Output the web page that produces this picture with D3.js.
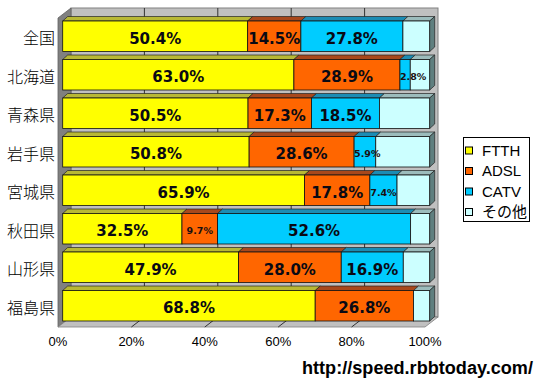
<!DOCTYPE html>
<html><head><meta charset="utf-8">
<script src="https://cdn.jsdelivr.net/npm/d3@7"></script>
<style>html,body{margin:0;padding:0;background:#fff;}svg{display:block;}</style>
</head><body>
<svg id="c" width="540" height="382"></svg>
<script>
const categories = ["全国","北海道","青森県","岩手県","宮城県","秋田県","山形県","福島県"];
const ftth  = [50.4, 63.0, 50.5, 50.8, 65.9, 32.5, 47.9, 68.8];
const adsl  = [14.5, 28.9, 17.3, 28.6, 17.8,  9.7, 28.0, 26.8];
const catv  = [27.8,  2.8, 18.5,  5.9,  7.4, 52.6, 16.9,  0.0];
const other = [ 7.3,  5.3, 13.7, 14.7,  8.9,  5.2,  7.2,  4.4];
const seriesNames = ["FTTH","ADSL","CATV","その他"];
const xTicks = [0, 20, 40, 60, 80, 100];
const sourceText = "http://speed.rbbtoday.com/";

const seriesValues = [ftth, adsl, catv, other];
const frontCol = ["#FFFF00","#FF6600","#00CCFF","#CCFFFF"];
const topCol   = ["#b8b834","#a8481c","#1c8cb4","#9cbcbc"];
const sideCol  = "#5f7f7f";
const showLabel = [true, true, true, false];

const svg = d3.select("#c");
const xPlane = d3.scaleLinear().domain([0,100]).range([58,425]);
const xBar   = d3.scaleLinear().domain([0,100]).range([62.7,429.7]);
const DX = 13, DY = 10, BDX = 5, BDY = 4.5;
const planeTop = 18, planeBot = 327;
const y = d3.scaleBand().domain(categories).range([20.5, 328.5]).padding(0);
const barH = y.bandwidth() - 8;

const poly = pts => pts.map(p => p.join(",")).join(" ");

svg.append("rect").attr("x", xPlane(0)+DX).attr("y", planeTop-DY)
  .attr("width", xPlane(100)-xPlane(0)).attr("height", planeBot-planeTop)
  .attr("fill", "#c0c0c0").attr("stroke", "#808080").attr("stroke-width", 1);
svg.append("polygon").attr("points", poly([[xPlane(0),planeTop],[xPlane(0)+DX,planeTop-DY],[xPlane(0)+DX,planeBot-DY],[xPlane(0),planeBot]]))
  .attr("fill", "#808080").attr("stroke", "#606060").attr("stroke-width", 0.8);
svg.append("polygon").attr("points", poly([[xPlane(0),planeBot],[xPlane(100),planeBot],[xPlane(100)+DX,planeBot-DY],[xPlane(0)+DX,planeBot-DY]]))
  .attr("fill", "#c0c0c0").attr("stroke", "#808080").attr("stroke-width", 0.8);
xTicks.filter(t => t > 0 && t < 100).forEach(t => {
  svg.append("line").attr("x1", xPlane(t)+DX).attr("x2", xPlane(t)+DX)
    .attr("y1", planeTop-DY).attr("y2", planeBot-DY).attr("stroke", "#333").attr("stroke-width", 1);
  svg.append("line").attr("x1", xPlane(t)).attr("x2", xPlane(t)+DX)
    .attr("y1", planeBot).attr("y2", planeBot-DY).attr("stroke", "#333").attr("stroke-width", 1);
});

const labelG = [];
categories.forEach((cat, i) => {
  const y0 = y(cat) + 0.5;
  let acc = 0;
  seriesValues.forEach((arr, s) => {
    const v = arr[i];
    if (v <= 0) return;
    const x1 = xBar(acc), x2 = xBar(acc + v);
    const g = svg.append("g");
    g.append("polygon").attr("points", poly([[x1,y0],[x2,y0],[x2+BDX,y0-BDY],[x1+BDX,y0-BDY]]))
      .attr("fill", topCol[s]).attr("stroke", "#222").attr("stroke-width", 0.7);
    g.append("rect").attr("x", x1).attr("y", y0).attr("width", x2-x1).attr("height", barH)
      .attr("fill", frontCol[s]).attr("stroke", "#111").attr("stroke-width", 0.8);
    if (showLabel[s]) {
      labelG.push({x1, x2, cy: y0 + barH/2 + 2, text: v.toFixed(1) + "%", small: v < 10});
    }
    acc += v;
  });
  const xe = xBar(acc);
  svg.append("polygon").attr("points", poly([[xe,y0],[xe+BDX,y0-BDY],[xe+BDX,y0+barH-BDY],[xe,y0+barH]]))
    .attr("fill", sideCol).attr("stroke", "#222").attr("stroke-width", 0.7);
  svg.append("text").attr("x", 55).attr("y", y0 + barH/2 + 2).attr("dy", "0.36em")
    .attr("text-anchor", "end").attr("font-family", "'Noto Sans CJK JP', sans-serif")
    .attr("font-weight", 300).attr("font-size", 16).attr("fill", "#000").text(cat);
});

labelG.forEach(l => {
  const t = svg.append("text").attr("y", l.cy).attr("dy", "0.36em")
    .attr("text-anchor", "middle").attr("font-family", "'DejaVu Sans', sans-serif")
    .attr("font-weight", "bold").attr("font-size", l.small ? 9.5 : 15)
    .attr("fill", l.small ? "#1a1010" : "#0a0a14").text(l.text);
  const w = t.node().getComputedTextLength();
  t.attr("x", Math.max((l.x1 + l.x2)/2, l.x1 + w/2));
});

svg.selectAll("text.xt").data(xTicks).enter().append("text").attr("class", "xt")
  .attr("x", d => xPlane(d)).attr("y", 346).attr("text-anchor", "middle")
  .attr("font-family", "'Liberation Sans', Arial, sans-serif").attr("font-size", 13)
  .attr("fill", "#000").text(d => d + "%");

const lg = svg.append("g");
lg.append("rect").attr("x", 463.5).attr("y", 137.5).attr("width", 66).attr("height", 84)
  .attr("fill", "#fff").attr("stroke", "#000").attr("stroke-width", 1);
seriesNames.forEach((n, k) => {
  const cy = 150.5 + k*20.5;
  lg.append("rect").attr("x", 465.5).attr("y", cy-3.5).attr("width", 7).attr("height", 7)
    .attr("fill", frontCol[k]).attr("stroke", "#000").attr("stroke-width", 1);
  lg.append("text").attr("x", 482).attr("y", cy).attr("dy", "0.36em")
    .attr("font-family", "'Liberation Sans', 'Noto Sans CJK JP', sans-serif").attr("font-size", 15)
    .attr("fill", "#000").text(n);
});

svg.append("text").attr("x", 302).attr("y", 374)
  .attr("font-family", "'Liberation Sans', Arial, sans-serif").attr("font-weight", "bold")
  .attr("font-size", 17.5).attr("textLength", 231).attr("lengthAdjust", "spacingAndGlyphs")
  .attr("fill", "#000").text(sourceText);
</script>
</body></html>
